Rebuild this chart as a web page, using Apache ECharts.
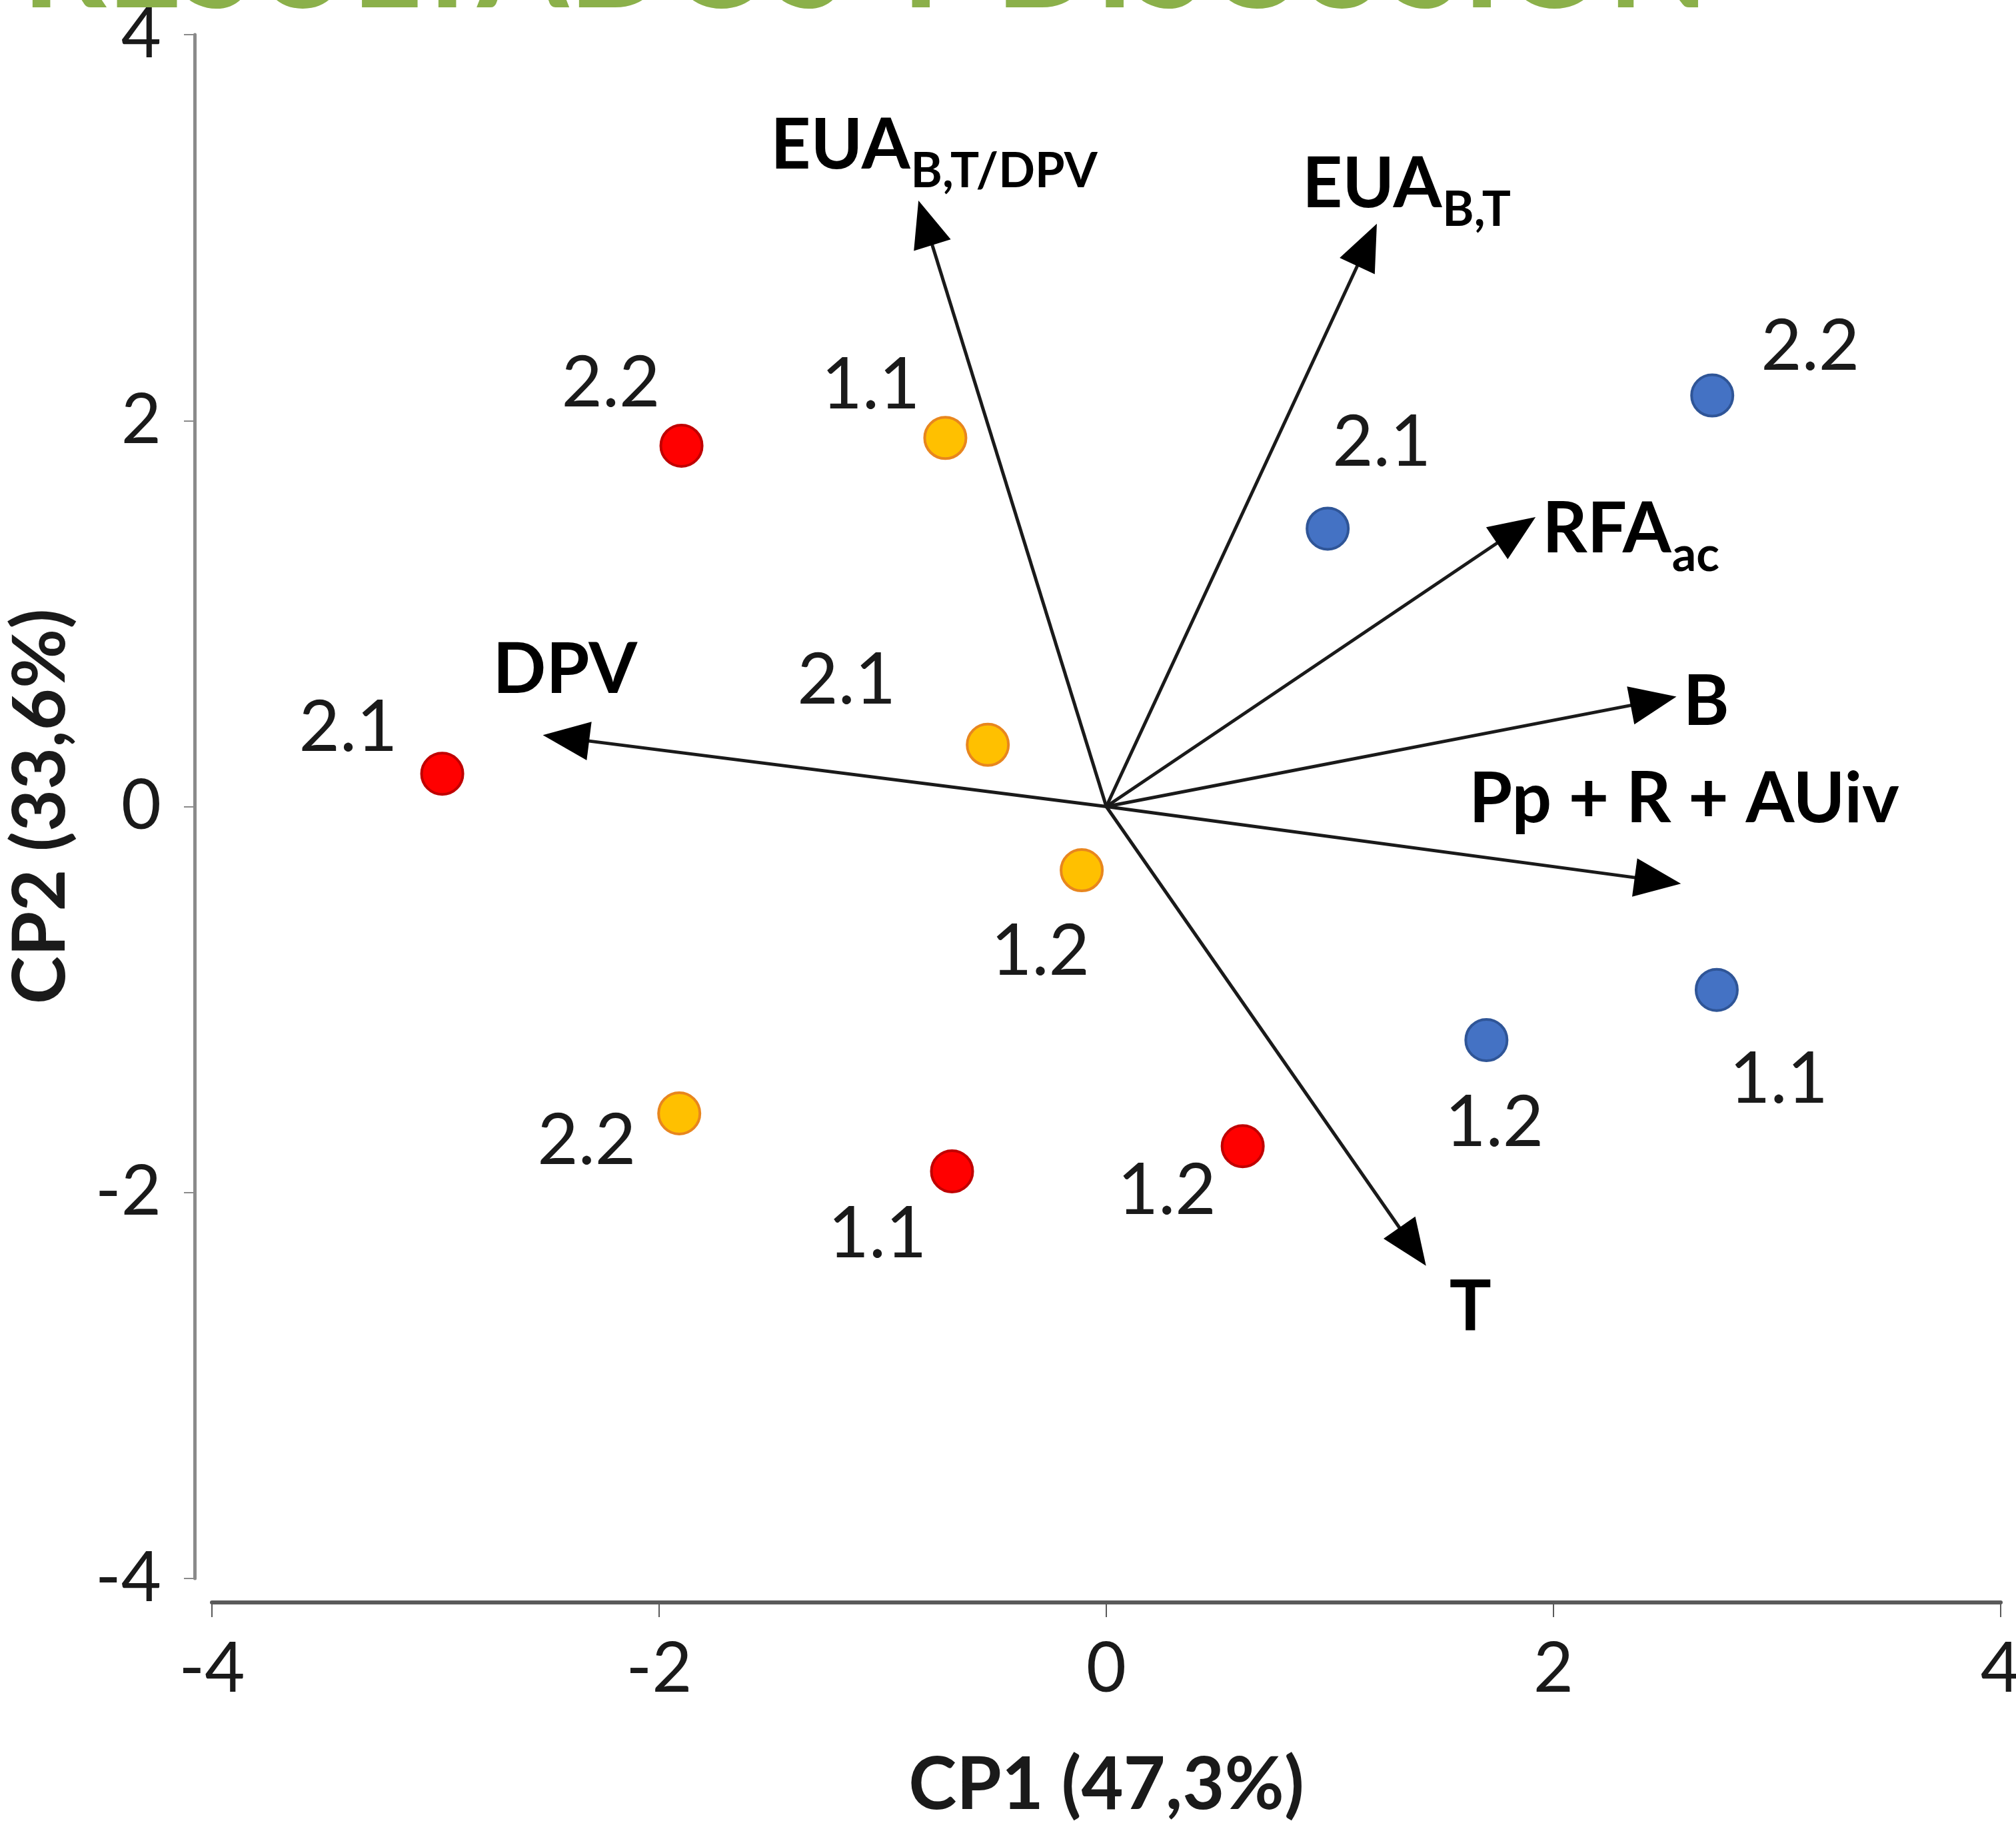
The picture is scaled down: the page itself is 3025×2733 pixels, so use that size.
<!DOCTYPE html>
<html><head><meta charset="utf-8">
<script src="https://cdn.jsdelivr.net/npm/echarts@6.0.0/dist/echarts.min.js"></script>
<style>html,body{margin:0;padding:0;background:#fff;}#c{width:3025px;height:2733px;}</style>
</head><body><div id="c"></div>
<script>
// ---- data ----
const titleText = 'RESULTADOS Y DISCUSIÓN';
const xAxisName = 'CP1 (47,3%)';
const yAxisName = 'CP2 (33,6%)';
const xTickValues = [-4, -2, 0, 2, 4];
const yTickValues = [-4, -2, 0, 2, 4];

const redNames = ['2.2', '2.1', '1.1', '1.2'];
const redX = [-1.90, -2.97, -0.69, 0.61];
const redY = [1.87, 0.17, -1.89, -1.76];

const orangeNames = ['1.1', '2.1', '1.2', '2.2'];
const orangeX = [-0.72, -0.53, -0.11, -1.91];
const orangeY = [1.91, 0.32, -0.33, -1.59];

const blueNames = ['2.2', '2.1', '1.1', '1.2'];
const blueX = [2.71, 0.99, 2.73, 1.70];
const blueY = [2.13, 1.44, -0.95, -1.21];

const vecMain = ['EUA', 'EUA', 'RFA', 'B', 'Pp + R + AUiv', 'T', 'DPV'];
const vecSub = ['B,T/DPV', 'B,T', 'ac', '', '', '', ''];
const vecX = [-0.84, 1.21, 1.92, 2.55, 2.57, 1.43, -2.52];
const vecY = [3.14, 3.02, 1.50, 0.57, -0.40, -2.38, 0.37];

// ---- layout (pixel offsets, not data) ----
const redLabelOff = [[-106, -93], [-141, -68], [-112, 95], [-114, 68]];
const orangeLabelOff = [[-112, -79], [-212, -96], [-62, 123], [-139, 42]];
const blueLabelOff = [[147, -73], [81, -129], [93, 135], [12, 125]];
// offset of label left edge / baseline from arrow tip
const vecLabelOff = [[-222, -48], [-112, -25], [10, 53], [10, 43], [-318, -92], [35, 97], [-75, -63]];

const FONT = 'Lato';
const NUM_FS = 106, TICK_FS = 104, BOLD_FS = 105, NAME_FS = 109, SUB_FS = 72;
const INK = '#1a1a1a';

const mctx = document.createElement('canvas').getContext('2d');
function textW(t, font) { mctx.font = font; mctx.textBaseline = 'alphabetic'; return mctx.measureText(t).width; }
function midToBase(font) {
  mctx.font = font; mctx.textBaseline = 'middle';
  const d = mctx.measureText('H').actualBoundingBoxDescent;
  mctx.textBaseline = 'alphabetic';
  return isFinite(d) ? d : 0;
}

function pts(xs, ys, names, offs) {
  return xs.map((x, i) => ({
    value: [x, ys[i]], name: names[i],
    label: { offset: offs[i] }
  }));
}

function scatter(name, data, fill, border) {
  return {
    type: 'scatter', name, data, z: 5,
    symbol: 'circle', symbolSize: 62,
    itemStyle: { color: fill, borderColor: border, borderWidth: 4, opacity: 1 },
    label: {
      show: true, position: 'inside', formatter: p => p.name,
      fontFamily: FONT, fontSize: NUM_FS, color: INK
    },
    emphasis: { disabled: true }
  };
}

const arrowData = vecX.map((x, i) => [x, vecY[i]]);
const mainFont = 'bold ' + BOLD_FS + 'px ' + FONT;
const subFont = 'bold ' + SUB_FS + 'px ' + FONT;
const mainMB = midToBase(mainFont) || 0.38 * BOLD_FS;
const subMB = midToBase(subFont) || 0.38 * SUB_FS;

function renderArrow(params, api) {
  const i = params.dataIndex;
  const o = api.coord([0, 0]);
  const t = api.coord([api.value(0), api.value(1)]);
  const dx = t[0] - o[0], dy = t[1] - o[1];
  const L = Math.hypot(dx, dy);
  const ux = dx / L, uy = dy / L, px = -uy, py = ux;
  const head = 70, hw = 29;
  const bx = t[0] - ux * head, by = t[1] - uy * head;
  const off = vecLabelOff[i];
  const lx = t[0] + off[0], base = t[1] + off[1];
  const children = [
    { type: 'line', shape: { x1: o[0], y1: o[1], x2: bx + ux * 12, y2: by + uy * 12 },
      style: { stroke: INK, lineWidth: 5 } },
    { type: 'polygon', shape: { points: [[t[0], t[1]], [bx + px * hw, by + py * hw], [bx - px * hw, by - py * hw]] },
      style: { fill: '#000' } },
    { type: 'text', x: lx, y: base - mainMB,
      style: { text: vecMain[i], font: mainFont, fill: '#000', align: 'left', verticalAlign: 'middle' } }
  ];
  if (vecSub[i]) {
    const w = textW(vecMain[i], mainFont);
    children.push({ type: 'text', x: lx + w + 1, y: base + 28 - subMB,
      style: { text: vecSub[i], font: subFont, fill: '#000', align: 'left', verticalAlign: 'middle' } });
  }
  return { type: 'group', children };
}

const chart = echarts.init(document.getElementById('c'), null, { renderer: 'canvas' });

let titleFs = 200 * 2527 / textW(titleText, 'bold 200px ' + FONT);
if (!isFinite(titleFs) || titleFs <= 0) titleFs = 203;
titleFs = Math.round(titleFs);
const titleMB = midToBase('bold ' + titleFs + 'px ' + FONT) || 0.38 * titleFs;
const titleBaseline = 11;

chart.setOption({
  backgroundColor: '#fff',
  animation: false,
  title: {
    text: titleText, left: 33, top: Math.round(titleBaseline - titleFs / 2 - titleMB), padding: 0,
    textStyle: { fontFamily: FONT, fontSize: titleFs, fontWeight: 'bold', color: '#8BB04A', lineHeight: titleFs }
  },
  grid: { left: 318, right: 23, top: 52, bottom: 364, containLabel: false, outerBoundsMode: 'none' },
  xAxis: {
    type: 'value', min: xTickValues[0], max: xTickValues[xTickValues.length - 1], interval: 2,
    offset: 36,
    axisLine: { show: true, onZero: false, lineStyle: { color: '#5a5a5a', width: 6 } },
    axisTick: { show: true, inside: false, length: 22, lineStyle: { color: '#5a5a5a', width: 2 } },
    axisLabel: { fontFamily: FONT, fontSize: TICK_FS, color: INK, margin: 48 },
    splitLine: { show: false },
    name: xAxisName, nameLocation: 'middle', nameGap: 220,
    nameTextStyle: { fontFamily: FONT, fontSize: NAME_FS, fontWeight: 'bold', color: INK }
  },
  yAxis: {
    type: 'value', min: yTickValues[0], max: yTickValues[yTickValues.length - 1], interval: 2,
    offset: 26,
    axisLine: { show: true, onZero: false, lineStyle: { color: '#8a8a8a', width: 5 } },
    axisTick: { show: true, inside: false, length: 16, lineStyle: { color: '#8a8a8a', width: 2 } },
    axisLabel: { fontFamily: FONT, fontSize: TICK_FS, color: INK, margin: 50 },
    splitLine: { show: false },
    name: yAxisName, nameLocation: 'middle', nameGap: 176, nameRotate: 90,
    nameTextStyle: { fontFamily: FONT, fontSize: NAME_FS, fontWeight: 'bold', color: INK }
  },
  series: [
    { type: 'custom', name: 'vectors', data: arrowData, renderItem: renderArrow, z: 3, clip: false,
      encode: { x: 0, y: 1 } },
    scatter('red', pts(redX, redY, redNames, redLabelOff), '#FF0000', '#C00000'),
    scatter('orange', pts(orangeX, orangeY, orangeNames, orangeLabelOff), '#FFC000', '#E8861E'),
    scatter('blue', pts(blueX, blueY, blueNames, blueLabelOff), '#4472C4', '#2F5597')
  ]
});
</script></body></html>
